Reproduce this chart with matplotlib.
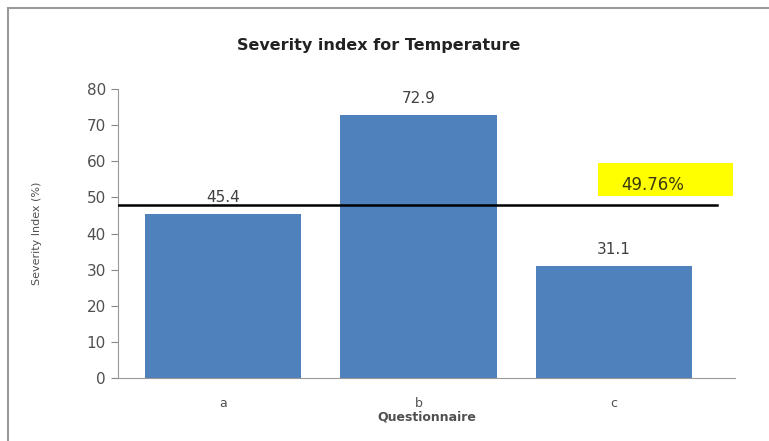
import matplotlib.pyplot as plt
from matplotlib.patches import Rectangle

# data
categories = ['a', 'b', 'c']
values = [45.4, 72.9, 31.1]
mean_line = 47.8
mean_label = '49.76%'

fig = plt.figure(figsize=(7.69, 4.41), dpi=100)
fig.patch.set_facecolor('white')

# outer chart border
fig.add_artist(Rectangle((8 / 769, -0.01), 1.0, 1 - 8 / 441 + 0.01, transform=fig.transFigure,
                         fill=False, edgecolor='#9a9a9a', linewidth=1.5))

ax = fig.add_axes([0.153, 0.143, 0.803, 0.655])
x = list(range(len(categories)))
ax.bar(x, values, width=0.8, color='#4F81BD', zorder=2)

for xi, v in zip(x, values):
    ax.text(xi, v + 2.5, str(v), ha='center', va='bottom', fontsize=11, color='#404040')

ax.axhline(mean_line, xmin=0.0, xmax=0.97, color='black', linewidth=1.8, zorder=3)

# yellow highlight box with the mean label
ax.add_patch(Rectangle((1.92, 50.3), 0.69, 9.3, facecolor='#FFFF00', edgecolor='none',
                       zorder=4, clip_on=False))
ax.text(2.2, 53.4, mean_label, ha='center', va='center', fontsize=12, color='#3a3a10', zorder=5)

ax.set_ylim(0, 80)
ax.set_yticks(range(0, 81, 10))
ax.set_xlim(-0.54, 2.62)
ax.set_xticks(x)
ax.set_xticklabels(categories)
ax.tick_params(axis='y', colors='#888888', labelcolor='#505050', labelsize=11, length=5, direction='out')
ax.tick_params(axis='x', length=0, pad=14, labelsize=9, labelcolor='#505050')

for s in ['top', 'right']:
    ax.spines[s].set_visible(False)
for s in ['left', 'bottom']:
    ax.spines[s].set_color('#999999')

ax.set_ylabel('Severity Index (%)', fontsize=8, color='#505050')
ax.yaxis.set_label_coords(-0.122, 0.5)
ax.set_xlabel('Questionnaire', fontsize=9, color='#505050', fontweight='bold', labelpad=0)
fig.text(0.492, 0.897, 'Severity index for Temperature', ha='center', va='center',
         fontsize=11.5, fontweight='bold', color='#222222')

fig.savefig('out.png', dpi=100)
